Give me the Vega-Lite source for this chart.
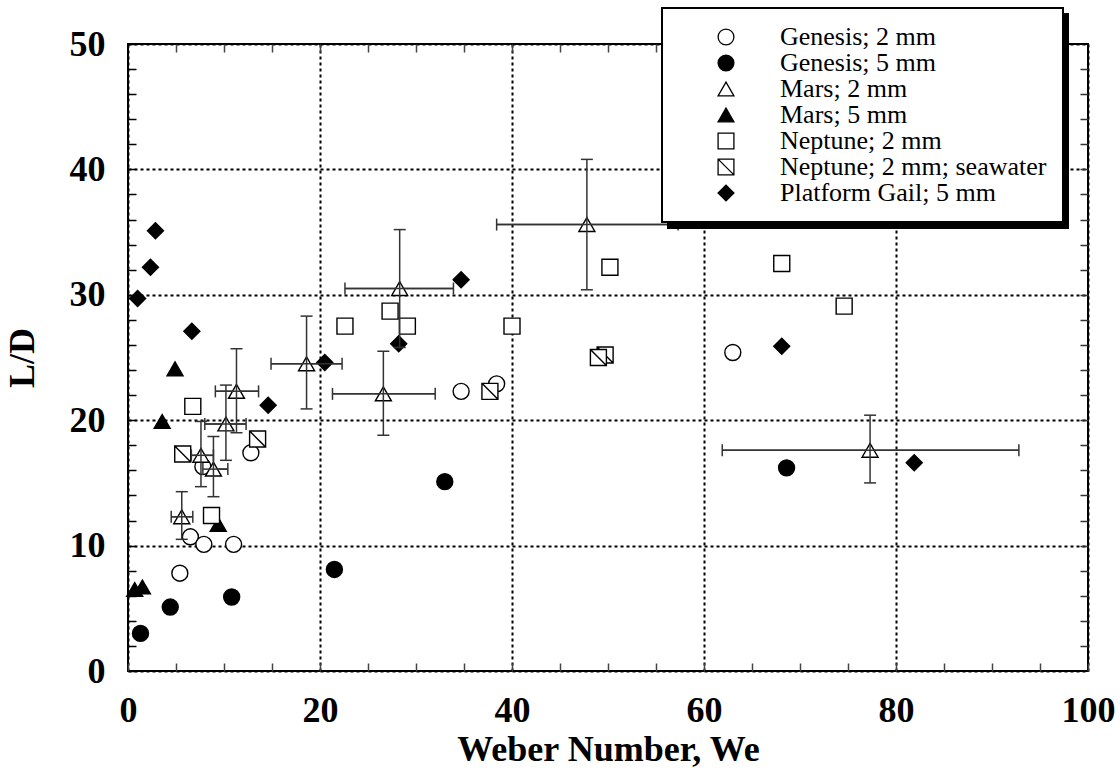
{
  "$schema": "https://vega.github.io/schema/vega-lite/v6.json",
  "width": 960,
  "height": 627,
  "autosize": {"type": "none"},
  "padding": {"left": 128, "top": 44, "right": 32, "bottom": 112},
  "background": "white",
  "config": {
    "view": {"stroke": "black", "strokeWidth": 2},
    "font": "Liberation Serif",
    "legend": {"strokeWidth": 2}
  },
  "data": {
    "values": [
      {"series": "Genesis; 2 mm", "we": 5.4, "ld": 7.8},
      {"series": "Genesis; 2 mm", "we": 6.5, "ld": 10.7},
      {"series": "Genesis; 2 mm", "we": 7.9, "ld": 10.1},
      {"series": "Genesis; 2 mm", "we": 11.0, "ld": 10.1},
      {"series": "Genesis; 2 mm", "we": 7.8, "ld": 16.3},
      {"series": "Genesis; 2 mm", "we": 12.8, "ld": 17.4},
      {"series": "Genesis; 2 mm", "we": 34.7, "ld": 22.3},
      {"series": "Genesis; 2 mm", "we": 38.4, "ld": 22.9},
      {"series": "Genesis; 2 mm", "we": 63.0, "ld": 25.4},
      {"series": "Genesis; 5 mm", "we": 1.3, "ld": 3.0},
      {"series": "Genesis; 5 mm", "we": 4.4, "ld": 5.1},
      {"series": "Genesis; 5 mm", "we": 10.8, "ld": 5.9},
      {"series": "Genesis; 5 mm", "we": 21.5, "ld": 8.1},
      {"series": "Genesis; 5 mm", "we": 33.0, "ld": 15.1},
      {"series": "Genesis; 5 mm", "we": 68.6, "ld": 16.2},
      {"series": "Mars; 2 mm", "we": 5.6, "ld": 12.3, "xlo": 4.5, "xhi": 6.75, "ylo": 10.5, "yhi": 14.3},
      {"series": "Mars; 2 mm", "we": 7.6, "ld": 17.2, "xlo": 6.6, "xhi": 8.9, "ylo": 14.7, "yhi": 19.9},
      {"series": "Mars; 2 mm", "we": 8.9, "ld": 16.1, "xlo": 7.8, "xhi": 10.4, "ylo": 13.9, "yhi": 18.7},
      {"series": "Mars; 2 mm", "we": 10.2, "ld": 19.7, "xlo": 8.0, "xhi": 12.3, "ylo": 16.8, "yhi": 22.8},
      {"series": "Mars; 2 mm", "we": 11.3, "ld": 22.3, "xlo": 9.1, "xhi": 13.6, "ylo": 19.0, "yhi": 25.7},
      {"series": "Mars; 2 mm", "we": 18.6, "ld": 24.5, "xlo": 14.9, "xhi": 22.3, "ylo": 20.9, "yhi": 28.3},
      {"series": "Mars; 2 mm", "we": 26.6, "ld": 22.1, "xlo": 21.3, "xhi": 32.0, "ylo": 18.8, "yhi": 25.5},
      {"series": "Mars; 2 mm", "we": 28.3, "ld": 30.5, "xlo": 22.6, "xhi": 33.9, "ylo": 25.8, "yhi": 35.2},
      {"series": "Mars; 2 mm", "we": 47.8, "ld": 35.6, "xlo": 38.4, "xhi": 57.3, "ylo": 30.4, "yhi": 40.8},
      {"series": "Mars; 2 mm", "we": 77.3, "ld": 17.6, "xlo": 61.9, "xhi": 92.8, "ylo": 15.0, "yhi": 20.4},
      {"series": "Mars; 5 mm", "we": 0.7, "ld": 6.5},
      {"series": "Mars; 5 mm", "we": 1.5, "ld": 6.7},
      {"series": "Mars; 5 mm", "we": 3.56, "ld": 19.9},
      {"series": "Mars; 5 mm", "we": 4.9, "ld": 24.1},
      {"series": "Mars; 5 mm", "we": 9.4, "ld": 11.7},
      {"series": "Neptune; 2 mm", "we": 6.75, "ld": 21.1},
      {"series": "Neptune; 2 mm", "we": 8.7, "ld": 12.4},
      {"series": "Neptune; 2 mm", "we": 22.6, "ld": 27.5},
      {"series": "Neptune; 2 mm", "we": 27.3, "ld": 28.7},
      {"series": "Neptune; 2 mm", "we": 29.1, "ld": 27.5},
      {"series": "Neptune; 2 mm", "we": 40.0, "ld": 27.5},
      {"series": "Neptune; 2 mm", "we": 50.2, "ld": 32.2},
      {"series": "Neptune; 2 mm", "we": 68.1, "ld": 32.5},
      {"series": "Neptune; 2 mm", "we": 74.6, "ld": 29.1},
      {"series": "Neptune; 2 mm; seawater", "we": 5.7, "ld": 17.3},
      {"series": "Neptune; 2 mm; seawater", "we": 13.5, "ld": 18.5},
      {"series": "Neptune; 2 mm; seawater", "we": 37.7, "ld": 22.3},
      {"series": "Neptune; 2 mm; seawater", "we": 49.7, "ld": 25.2},
      {"series": "Neptune; 2 mm; seawater", "we": 49.0, "ld": 25.0},
      {"series": "Platform Gail; 5 mm", "we": 1.0, "ld": 29.7},
      {"series": "Platform Gail; 5 mm", "we": 2.34, "ld": 32.2},
      {"series": "Platform Gail; 5 mm", "we": 2.86, "ld": 35.1},
      {"series": "Platform Gail; 5 mm", "we": 6.65, "ld": 27.1},
      {"series": "Platform Gail; 5 mm", "we": 14.6, "ld": 21.2},
      {"series": "Platform Gail; 5 mm", "we": 20.5, "ld": 24.6},
      {"series": "Platform Gail; 5 mm", "we": 28.2, "ld": 26.1},
      {"series": "Platform Gail; 5 mm", "we": 34.7, "ld": 31.2},
      {"series": "Platform Gail; 5 mm", "we": 68.1, "ld": 25.9},
      {"series": "Platform Gail; 5 mm", "we": 81.9, "ld": 16.6}
    ]
  },
  "resolve": {"axis": {"x": "independent", "y": "independent"}},
  "layer": [
    {
      "transform": [{"filter": "isValid(datum.xlo)"}],
      "mark": {"type": "rule", "strokeWidth": 1.5},
      "encoding": {
        "x": {
          "field": "xlo", "type": "quantitative",
          "scale": {"domain": [0, 100], "nice": false, "zero": false},
          "axis": {
            "orient": "bottom",
            "values": [0,5,10,15,20,25,30,35,40,45,50,55,60,65,70,75,80,85,90,95,100],
            "labelExpr": "datum.value % 20 === 0 ? datum.label : ''",
            "labelFlush": false, "labelOverlap": false, "labelBound": false,
            "domain": false,
            "grid": true, "gridColor": "black", "gridWidth": 2, "gridDash": [3, 3],
            "gridOpacity": {"condition": {"test": "datum.value % 20 === 0", "value": 1}, "value": 0},
            "tickSize": -8, "tickColor": "#444", "tickWidth": 1.5,
            "labelFont": "Liberation Serif", "labelFontSize": 36, "labelFontWeight": "bold", "labelColor": "black",
            "labelBaseline": "middle", "labelPadding": 47,
            "title": "Weber Number, We",
            "titleFont": "Liberation Serif", "titleFontSize": 36, "titleFontWeight": "bold", "titleColor": "black",
            "titleBaseline": "middle", "titleY": 78
          }
        },
        "x2": {"field": "xhi"},
        "y": {
          "field": "ld", "type": "quantitative",
          "scale": {"domain": [0, 50], "nice": false, "zero": false},
          "axis": {
            "orient": "left",
            "values": [0,2,4,6,8,10,12,14,16,18,20,22,24,26,28,30,32,34,36,38,40,42,44,46,48,50],
            "labelExpr": "datum.value % 10 === 0 ? datum.label : ''",
            "labelFlush": false, "labelOverlap": false, "labelBound": false,
            "domain": false,
            "grid": true, "gridColor": "black", "gridWidth": 2, "gridDash": [3, 3],
            "gridOpacity": {"condition": {"test": "datum.value % 10 === 0", "value": 1}, "value": 0},
            "tickSize": -8, "tickColor": "black", "tickWidth": 1.5,
            "labelFont": "Liberation Serif", "labelFontSize": 36, "labelFontWeight": "bold", "labelColor": "black",
            "labelPadding": 31,
            "title": "L/D",
            "titleFont": "Liberation Serif", "titleFontSize": 36, "titleFontWeight": "bold", "titleColor": "black",
            "titleBaseline": "middle", "titleX": -106
          }
        },
        "color": {
          "field": "series", "type": "nominal",
          "scale": {
            "domain": ["Platform Gail; 5 mm", "Neptune; 2 mm; seawater", "Neptune; 2 mm", "Mars; 5 mm", "Mars; 2 mm", "Genesis; 5 mm", "Genesis; 2 mm"],
            "range": ["#333", "#333", "#333", "#333", "#333", "#333", "#333"]
          },
          "legend": {
            "orient": "none", "legendX": 540, "legendY": -30, "title": null,
            "fillColor": "black", "strokeColor": "black", "padding": 16,
            "labelFont": "Liberation Serif", "labelFontSize": 26, "labelColor": "black",
            "labelExpr": "''",
            "symbolType": "square", "symbolSize": 250, "symbolFillColor": "black", "symbolStrokeColor": "black",
            "symbolOffset": 35, "labelOffset": 307, "rowPadding": -1
          }
        }
      }
    },
    {
      "mark": {"type": "point", "filled": false, "opacity": 1, "size": 256, "stroke": "black", "strokeWidth": 1.4},
      "encoding": {
        "x": {"field": "we", "type": "quantitative", "axis": null},
        "y": {"field": "ld", "type": "quantitative", "axis": null},
        "shape": {
          "field": "series", "type": "nominal",
          "scale": {
            "domain": ["Genesis; 2 mm", "Genesis; 5 mm", "Mars; 2 mm", "Mars; 5 mm", "Neptune; 2 mm", "Neptune; 2 mm; seawater", "Platform Gail; 5 mm"],
            "range": ["circle", "circle", "triangle-up", "triangle-up", "square", "M-1,-1L1,-1L1,1L-1,1Z M-1,-1L1,1", "diamond"]
          },
          "legend": {
            "orient": "none", "legendX": 534, "legendY": -36, "title": null,
            "fillColor": "white", "strokeColor": "black", "padding": 16,
            "labelFont": "Liberation Serif", "labelFontSize": 26, "labelColor": "black", "labelLimit": 500,
            "symbolSize": 250, "symbolStrokeColor": "black", "symbolStrokeWidth": 1.3, "symbolOpacity": 1,
            "symbolOffset": 35, "labelOffset": 41, "rowPadding": -1,
            "encode": {"symbols": {"update": {"stroke": {"value": "black"}, "strokeWidth": {"value": 1.3}, "opacity": {"value": 1}}}}
          }
        },
        "fill": {
          "field": "series", "type": "nominal",
          "scale": {
            "domain": ["Genesis; 2 mm", "Genesis; 5 mm", "Mars; 2 mm", "Mars; 5 mm", "Neptune; 2 mm", "Neptune; 2 mm; seawater", "Platform Gail; 5 mm"],
            "range": ["white", "black", "white", "black", "white", "white", "black"]
          },
          "legend": {
            "orient": "none", "legendX": 534, "legendY": -36, "title": null,
            "fillColor": "white", "strokeColor": "black", "padding": 16,
            "labelFont": "Liberation Serif", "labelFontSize": 26, "labelColor": "black", "labelLimit": 500,
            "symbolSize": 250, "symbolStrokeColor": "black", "symbolStrokeWidth": 1.3, "symbolOpacity": 1,
            "symbolOffset": 35, "labelOffset": 41, "rowPadding": -1,
            "encode": {"symbols": {"update": {"stroke": {"value": "black"}, "strokeWidth": {"value": 1.3}, "opacity": {"value": 1}}}}
          }
        }
      }
    },
    {
      "transform": [{"filter": "isValid(datum.xlo)"}],
      "mark": {"type": "rule", "color": "#333", "strokeWidth": 1.5},
      "encoding": {
        "x": {"field": "xlo", "type": "quantitative", "axis": null},
        "x2": {"field": "xhi"},
        "y": {"field": "ld", "type": "quantitative", "axis": null}
      }
    },
    {
      "transform": [{"filter": "isValid(datum.xlo)"}],
      "mark": {"type": "rule", "color": "#333", "strokeWidth": 1.5},
      "encoding": {
        "x": {
          "field": "we", "type": "quantitative",
          "axis": {
            "orient": "top",
            "values": [5,10,15,20,25,30,35,40,45,50,55,60,65,70,75,80,85,90,95],
            "labels": false, "domain": false, "grid": false, "title": null,
            "tickSize": -8, "tickColor": "#444", "tickWidth": 1.5
          }
        },
        "y": {
          "field": "ylo", "type": "quantitative",
          "axis": {
            "orient": "right",
            "values": [2,4,6,8,10,12,14,16,18,20,22,24,26,28,30,32,34,36,38,40,42,44,46,48],
            "labels": false, "domain": false, "grid": false, "title": null,
            "tickSize": -8, "tickColor": "#333", "tickWidth": 1.5
          }
        },
        "y2": {"field": "yhi"}
      }
    },
    {
      "transform": [{"filter": "isValid(datum.xlo)"}],
      "mark": {"type": "tick", "orient": "horizontal", "color": "#333", "size": 12, "thickness": 1.5, "opacity": 1},
      "encoding": {
        "x": {"field": "we", "type": "quantitative", "axis": null},
        "y": {"field": "ylo", "type": "quantitative", "axis": null}
      }
    },
    {
      "transform": [{"filter": "isValid(datum.xlo)"}],
      "mark": {"type": "tick", "orient": "horizontal", "color": "#333", "size": 12, "thickness": 1.5, "opacity": 1},
      "encoding": {
        "x": {"field": "we", "type": "quantitative", "axis": null},
        "y": {"field": "yhi", "type": "quantitative", "axis": null}
      }
    },
    {
      "transform": [{"filter": "isValid(datum.xlo)"}],
      "mark": {"type": "tick", "orient": "vertical", "color": "#333", "size": 12, "thickness": 1.5, "opacity": 1},
      "encoding": {
        "x": {"field": "xlo", "type": "quantitative", "axis": null},
        "y": {"field": "ld", "type": "quantitative", "axis": null}
      }
    },
    {
      "transform": [{"filter": "isValid(datum.xlo)"}],
      "mark": {"type": "tick", "orient": "vertical", "color": "#333", "size": 12, "thickness": 1.5, "opacity": 1},
      "encoding": {
        "x": {"field": "xhi", "type": "quantitative", "axis": null},
        "y": {"field": "ld", "type": "quantitative", "axis": null}
      }
    }
  ]
}
